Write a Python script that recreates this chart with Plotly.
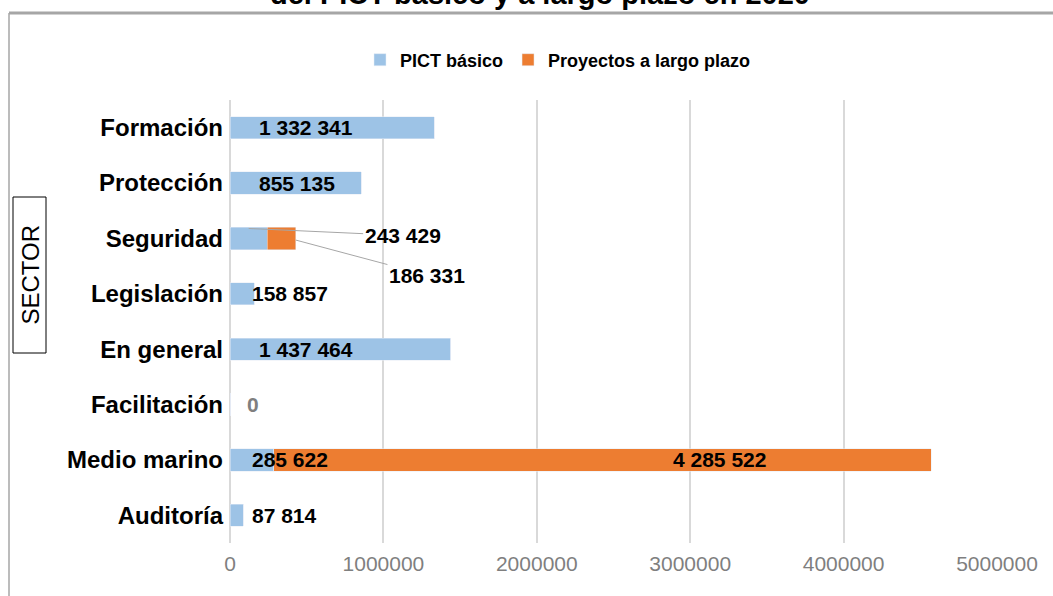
import plotly.graph_objects as go

# ---- data ----
categories = ["Formación", "Protección", "Seguridad", "Legislación",
              "En general", "Facilitación", "Medio marino", "Auditoría"]
pict_basico = [1332341, 855135, 243429, 158857, 1437464, 0, 285622, 87814]
largo_plazo = [0, 0, 186331, 0, 0, 0, 4285522, 0]
x_ticks = [0, 1000000, 2000000, 3000000, 4000000, 5000000]

title_text = "del PICT básico y a largo plazo en 2020"
blue = "#9DC3E6"
orange = "#ED7D31"
grid = "#D9D9D9"
frame = "#A6A6A6"
font_main = "Liberation Sans, Arial, sans-serif"


def fmt(v):
    return f"{v:,}".replace(",", " ")


W, H = 1053, 596
L, R, T, B = 230, 56, 100, 53
pw = W - L - R
ph = H - T - B


def px_x(p):
    return (p - L) / pw


def px_y(p):
    return (H - B - p) / ph


fig = go.Figure()
fig.add_trace(go.Bar(y=categories, x=pict_basico, orientation="h",
                     name="PICT básico", marker=dict(color=blue)))
fig.add_trace(go.Bar(y=categories, x=largo_plazo, orientation="h",
                     name="Proyectos a largo plazo", marker=dict(color=orange)))

annotations = []
# label pixel shifts from the start of the axis (style only)
label_shift = {"Formación": 27, "Protección": 27, "Legislación": 20,
               "En general": 27, "Facilitación": 15, "Medio marino": 20,
               "Auditoría": 20}
for i, c in enumerate(categories):
    if c not in label_shift:
        continue
    annotations.append(dict(
        x=0, y=c, xref="x", yref="y", xanchor="left", yanchor="middle",
        xshift=label_shift[c], showarrow=False, text=fmt(pict_basico[i]),
        font=dict(family=font_main, size=21, weight="bold",
                  color="#7F7F7F" if pict_basico[i] == 0 else "black")))

# long-term label for Medio marino
im = categories.index("Medio marino")
annotations.append(dict(
    x=pict_basico[im] + largo_plazo[im] / 2, y=categories[im], xref="x", yref="y",
    xanchor="center", yanchor="middle", xshift=117, showarrow=False,
    text=fmt(largo_plazo[im]),
    font=dict(family=font_main, size=21, weight="bold", color="black")))

# Seguridad leader-line labels
iseg = categories.index("Seguridad")
annotations.append(dict(
    x=pict_basico[iseg] / 2, y=iseg - 0.18, xref="x", yref="y",
    ax=154, ay=7, axref="pixel", ayref="pixel",
    showarrow=True, arrowhead=0, arrowwidth=1, arrowcolor=frame, standoff=0,
    text=fmt(pict_basico[iseg]),
    font=dict(family=font_main, size=21, weight="bold", color="black")))
annotations.append(dict(
    x=pict_basico[iseg] + largo_plazo[iseg], y=iseg + 0.03, xref="x", yref="y",
    ax=131, ay=35, axref="pixel", ayref="pixel",
    showarrow=True, arrowhead=0, arrowwidth=1, arrowcolor=frame, standoff=0,
    text=fmt(largo_plazo[iseg]),
    font=dict(family=font_main, size=21, weight="bold", color="black")))

# cut-off title line (partly above the picture, as in the original)
annotations.append(dict(
    x=px_x(540), y=px_y(-6), xref="paper", yref="paper",
    xanchor="center", yanchor="middle", showarrow=False, text=title_text,
    font=dict(family=font_main, size=29, weight="bold", color="black")))

# SECTOR axis title
annotations.append(dict(
    x=px_x(29.5), y=px_y(275), xref="paper", yref="paper",
    xanchor="center", yanchor="middle", showarrow=False, text="SECTOR",
    textangle=-90,
    font=dict(family=font_main, size=24, color="black")))

shapes = [
    dict(type="rect", xref="paper", yref="paper",
         x0=px_x(13), x1=px_x(46), y0=px_y(197), y1=px_y(353),
         line=dict(color="black", width=1)),
    dict(type="line", xref="paper", yref="paper",
         x0=px_x(9), x1=px_x(1060), y0=px_y(13), y1=px_y(13),
         line=dict(color=frame, width=3)),
    dict(type="line", xref="paper", yref="paper",
         x0=px_x(9), x1=px_x(9), y0=px_y(13), y1=px_y(620),
         line=dict(color=frame, width=1.5)),
]

fig.update_layout(
    width=W, height=H,
    margin=dict(l=L, r=R, t=T, b=B, autoexpand=False),
    barmode="stack", bargap=0.6,
    plot_bgcolor="white", paper_bgcolor="white",
    font=dict(family=font_main, color="black"),
    showlegend=True,
    legend=dict(orientation="h", x=px_x(558), y=px_y(60),
                xanchor="center", yanchor="middle",
                font=dict(family=font_main, size=18, weight="bold", color="black"),
                itemwidth=30, traceorder="normal"),
    annotations=annotations,
    shapes=shapes,
)
fig.update_xaxes(range=[0, 5000000], tickvals=x_ticks,
                 ticktext=[str(v) for v in x_ticks],
                 showgrid=True, gridcolor=grid, gridwidth=1.5,
                 zeroline=True, zerolinecolor=grid, zerolinewidth=1.5,
                 showline=False, ticks="", ticklabelstandoff=6,
                 tickfont=dict(family="Liberation Sans Narrow, Arial Narrow, Arial",
                               size=21, color="#7F7F7F"))
fig.update_yaxes(categoryorder="array", categoryarray=categories,
                 autorange="reversed", showgrid=False, showline=False,
                 ticks="", ticklabelstandoff=6,
                 tickfont=dict(family=font_main, size=24, weight="bold",
                               color="black"))

fig.write_html("out.html", config={"displayModeBar": False},
               post_script="document.body.style.margin='0';document.body.style.overflow='hidden';")
